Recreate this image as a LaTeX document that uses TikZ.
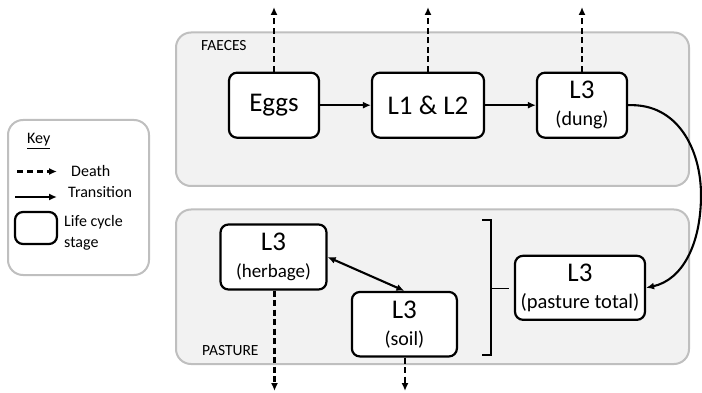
\documentclass[tikz,border=0pt]{standalone}
\usepackage{fontspec}
\setmainfont{Carlito}
\usetikzlibrary{arrows.meta}
\definecolor{zonefill}{HTML}{F2F2F2}
\definecolor{zoneline}{HTML}{BFBFBF}
\begin{document}
\begin{tikzpicture}[x=1pt,y=-1pt,
  zone/.style={draw=zoneline, fill=zonefill, line width=2pt, rounded corners=15pt},
  keyframe/.style={draw=zoneline, fill=white, line width=2pt, rounded corners=15pt},
  stage/.style={draw=black, fill=white, line width=2.2pt, rounded corners=8pt, align=center, inner sep=0pt, font=\fontsize{27}{32}\selectfont},
  trans/.style={line width=2.1pt, -{Latex[length=8pt,width=7pt]}},
  death/.style={trans, dash pattern=on 6pt off 3.5pt},
  twoway/.style={line width=2.1pt, {Latex[length=8pt,width=7pt]}-{Latex[length=8pt,width=7pt]}},
  zonelabel/.style={font=\fontsize{15.5}{18}\selectfont, anchor=west, inner sep=0pt},
  keytxt/.style={font=\fontsize{16}{21}\selectfont, inner sep=0pt, align=left}
]
\useasboundingbox (0,0) rectangle (702,393);
% zones
\draw[zone] (176,32.5) rectangle (689,186);
\draw[zone] (176,209.5) rectangle (689,364);
\node[zonelabel] (faeces) at (201,46) {FAECES};
\node[zonelabel] (pasture) at (202,351) {PASTURE};
% faeces stages
\node[stage, minimum width=90pt, minimum height=65pt] (eggs) at (274,105.2) {Eggs};
\node[stage, minimum width=112pt, minimum height=65pt] (l12) at (428,105.2) {L1 \& L2};
\node[stage, minimum width=90pt, minimum height=65pt] (dung) at (582,105.2) {L3\\[-5pt]{\fontsize{20}{22}\selectfont(dung)}};
% pasture stages
\node[stage, minimum width=106pt, minimum height=65pt] (herb) at (273.5,257) {L3\\[-5pt]{\fontsize{19}{22}\selectfont(herbage)}};
\node[stage, minimum width=105pt, minimum height=64.5pt] (soil) at (404.4,324.2) {L3\\[-5pt]{\fontsize{20}{22}\selectfont(soil)}};
\node[stage, minimum width=130pt, minimum height=64pt] (total) at (580,287.8) {L3\\[-5pt]{\fontsize{20.5}{22}\selectfont(pasture total)}};
% death ends
\coordinate (d1) at (274,7);
\coordinate (d2) at (428,7);
\coordinate (d3) at (582,7);
\coordinate (d4) at (274.5,391);
\coordinate (d5) at (405,391);
\draw[death] (eggs.north) -- (d1);
\draw[death] (l12.north) -- (d2);
\draw[death] (dung.north) -- (d3);
\draw[death] (herb.south -| d4) -- (d4);
\draw[death] (soil.south -| d5) -- (d5);
% transitions
\draw[trans] (eggs.east) -- (l12.west);
\draw[trans] (l12.east) -- (dung.west);
\draw[trans] (dung.east) .. controls (678,103) and (701,150) .. (701,195)
   .. controls (701,245) and (682,280) .. (total.east);
\draw[twoway] (herb.east) -- (soil.north);
% bracket
\draw[line width=1.8pt] (482,220.3) -- (491,220.3) -- (491,355.3) -- (482,355.3);
\draw[line width=1.8pt] (491,288.5) -- (509,288.5);
% key
\draw[keyframe] (8,120) rectangle (149,275);
\node[keytxt, anchor=base west] (keyhead) at (27,144) {\underline{Key}};
\coordinate (kd1) at (17,171.5);
\coordinate (kd2) at (57,171.5);
\coordinate (kt1) at (15,197);
\coordinate (kt2) at (57,197);
\draw[death, dash pattern=on 6pt off 4pt] (kd1) -- (kd2);
\draw[trans] (kt1) -- (kt2);
\node[keytxt, anchor=west] (kdeath) at (71,171) {Death};
\node[keytxt, anchor=west] (ktrans) at (68,192) {Transition};
\node[stage, minimum width=42pt, minimum height=32pt] (kstage) at (36,228) {};
\node[keytxt, anchor=north west] (klife) at (64,215) {Life cycle\\stage};
\end{tikzpicture}
\end{document}
